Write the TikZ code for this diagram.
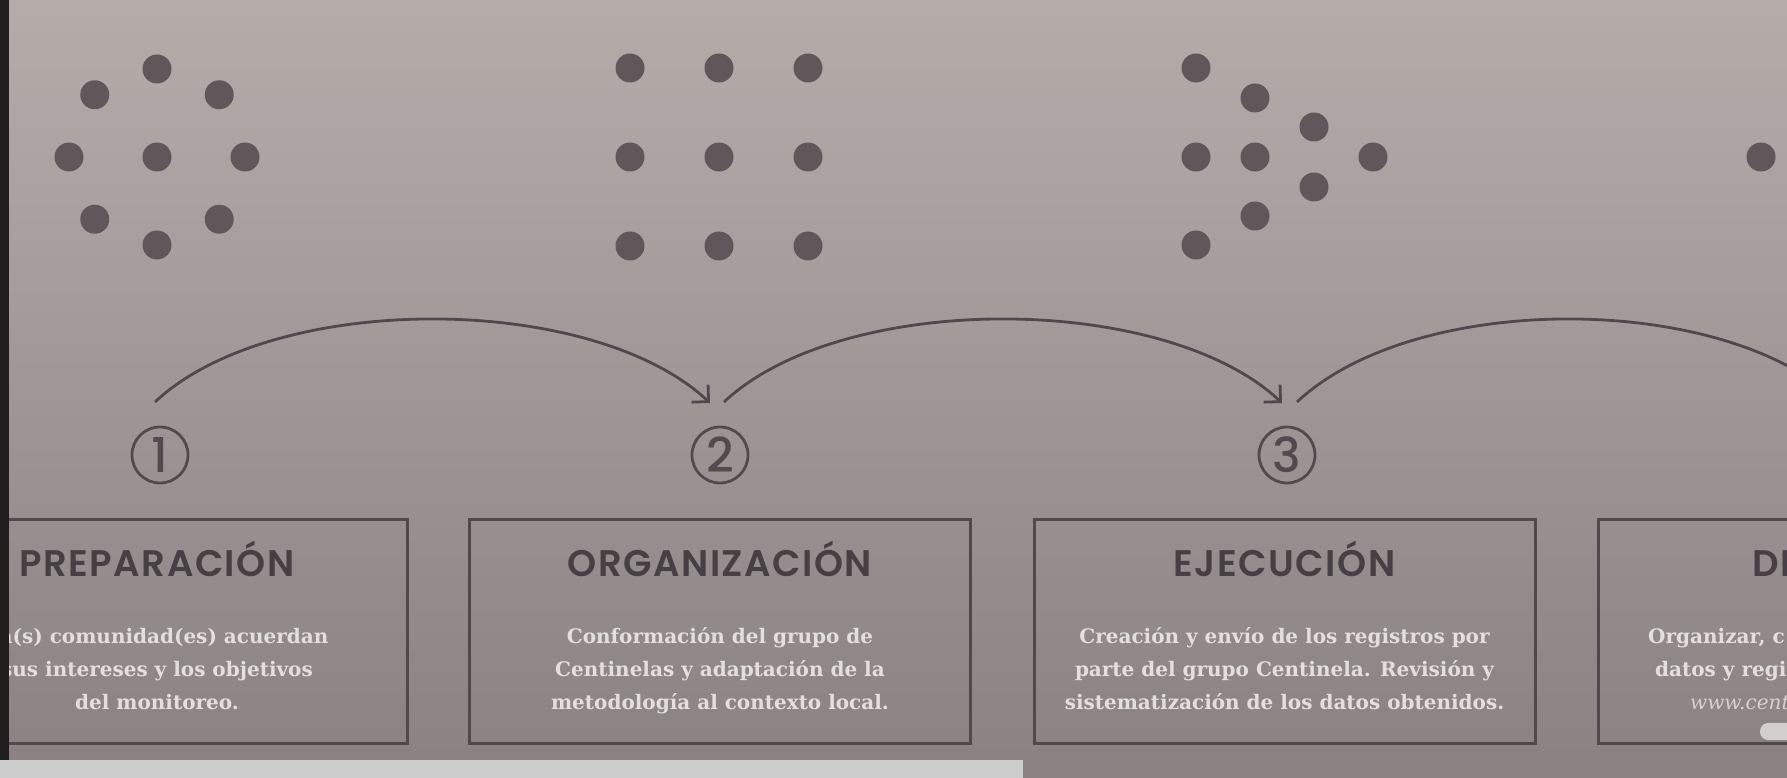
\documentclass[tikz,border=0pt]{standalone}
\usepackage{fontspec}
\usetikzlibrary{arrows.meta,calc}
\newfontfamily\titlefont{Poppins SemiBold}[LetterSpace=4]
\newfontfamily\numfont{Poppins Medium}
\newfontfamily\bodyfont{DejaVu Serif}
\definecolor{bgtop}{RGB}{181,172,170}
\definecolor{bgbot}{RGB}{137,129,130}
\definecolor{dotc}{RGB}{97,87,91}
\definecolor{linec}{RGB}{80,72,76}
\definecolor{titlec}{RGB}{70,63,67}
\definecolor{bodyc}{RGB}{228,223,223}
\definecolor{numc}{RGB}{82,74,78}
\definecolor{stripc}{RGB}{30,30,30}
\definecolor{barc}{RGB}{205,205,205}
\definecolor{pillc}{RGB}{212,207,207}
\begin{document}
\begin{tikzpicture}[x=1pt,y=1pt,
  dot/.style={fill=dotc},
  numst/.style={circle,draw=numc,line width=2.8pt,minimum size=56pt,inner sep=0pt,text=numc,font=\numfont\fontsize{48}{48}\selectfont},
  arcst/.style={draw=linec,line width=2.8pt,-{Straight Barb[length=12pt,width=24pt,line width=2.8pt]}},
  boxst/.style={draw=linec,line width=3pt,minimum width=501pt,minimum height=224pt,inner sep=0pt},
  titlest/.style={anchor=base,text=titlec,inner sep=0pt,font=\titlefont\fontsize{37}{37}\selectfont},
  bodyst/.style={anchor=base,text=bodyc,inner sep=0pt,font=\bodyfont\bfseries\fontsize{20}{20}\selectfont},
  bodyw/.style={anchor=base west,text=bodyc,inner sep=0pt,font=\bodyfont\bfseries\fontsize{20}{20}\selectfont},
  urlst/.style={anchor=base west,text=bodyc!85!bgbot,inner sep=0pt,font=\bodyfont\itshape\fontsize{20}{20}\selectfont}
]
\useasboundingbox (0,0) rectangle (1787,778);
\clip (0,0) rectangle (1787,778);
\shade[top color=bgtop,bottom color=bgbot] (0,0) rectangle (1787,778);

% dot clusters
\foreach \a in {0,45,...,315} \fill[dot] (157,621) ++(\a:88pt) circle (14.5pt);
\fill[dot] (157,621) circle (14.5pt);
\foreach \i in {-1,0,1} \foreach \j in {-1,0,1} \fill[dot] ({719+89*\i},{621+89*\j}) circle (14.5pt);
\foreach \p in {(1196,710),(1255,680),(1314,651),(1373,621),(1314,591),(1255,562),(1196,533),(1196,621),(1255,621)}
  \fill[dot] \p circle (14.5pt);
\fill[dot] (1761,621) circle (14.5pt);

% numbers
\node[numst] (n1) at (160,323) {1};
\node[numst] (n2) at (720,323) {2};
\node[numst] (n3) at (1287,323) {3};
\coordinate (n4) at (1850,323);

% arc end points
\coordinate (a1s) at ($(n1)+(-5,53)$);
\coordinate (a1e) at ($(n2)+(-10,52)$);
\coordinate (a2s) at ($(n2)+(4,53)$);
\coordinate (a2e) at ($(n3)+(-5,52)$);
\coordinate (a3s) at ($(n3)+(10,53)$);
\coordinate (a3e) at ($(n4)+(-10,52)$);
\draw[arcst] (a1s) .. controls +(118,111) and +(-118,111) .. (a1e);
\draw[arcst] (a2s) .. controls +(118,111) and +(-118,111) .. (a2e);
\draw[arcst] (a3s) .. controls +(118,111) and +(-118,111) .. (a3e);

% boxes
\node[boxst] (b1) at (157,146) {};
\node[boxst] (b2) at (720,146) {};
\node[boxst] (b3) at (1284.5,146) {};
\node[boxst] (b4) at (1848.5,146) {};

% titles
\node[titlest] (t1) at (157,201) {PREPARACIÓN};
\node[titlest] (t2) at (720,201) {ORGANIZACIÓN};
\node[titlest] (t3) at (1284.5,201) {EJECUCIÓN};
\node[titlest,anchor=base west] (t4) at (1752,201) {DI};

% body texts
\node[bodyst] (d1a) at (157,134) {La(s) comunidad(es) acuerdan};
\node[bodyst] (d1b) at (157,101) {sus intereses y los objetivos};
\node[bodyst] (d1c) at (157,68) {del monitoreo.};
\node[bodyst] (d2a) at (720,134) {Conformación del grupo de};
\node[bodyst] (d2b) at (720,101) {Centinelas y adaptación de la};
\node[bodyst] (d2c) at (720,68) {metodología al contexto local.};
\node[bodyst] (d3a) at (1284.5,134) {Creación y envío de los registros por};
\node[bodyst] (d3b) at (1284.5,101) {parte del grupo Centinela. Revisión y};
\node[bodyst] (d3c) at (1284.5,68) {sistematización de los datos obtenidos.};
\node[bodyw] (d4a) at (1648,134) {Organizar, c};
\node[bodyw] (d4b) at (1655,101) {datos y regi};
\node[urlst] (d4c) at (1690,68) {www.cent};

% pill shape in box 4
\fill[pillc,rounded corners=8pt] (1760,38) rectangle (1810,55);

% frame bits
\fill[barc] (0,0) rectangle (1023,18);
\fill[stripc] (0,18) rectangle (9,778);
\end{tikzpicture}
\end{document}
